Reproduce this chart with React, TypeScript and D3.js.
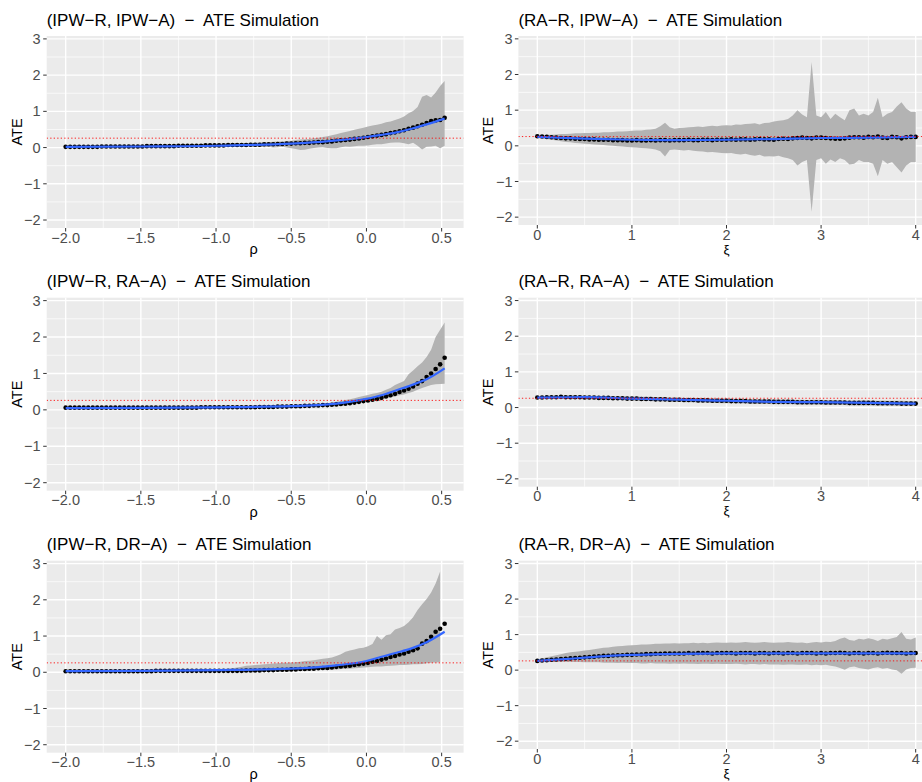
import React from 'react';
import * as d3 from 'd3';

// ---------- grids ----------
const rho = [-2.00,-1.97,-1.94,-1.91,-1.88,-1.85,-1.82,-1.79,-1.76,-1.73,-1.70,-1.67,-1.64,-1.61,-1.58,-1.55,-1.52,-1.49,-1.46,-1.43,-1.40,-1.37,-1.34,-1.31,-1.28,-1.25,-1.22,-1.19,-1.16,-1.13,-1.10,-1.07,-1.04,-1.01,-0.98,-0.95,-0.92,-0.89,-0.86,-0.83,-0.80,-0.77,-0.74,-0.71,-0.68,-0.65,-0.62,-0.59,-0.56,-0.53,-0.50,-0.47,-0.44,-0.41,-0.38,-0.35,-0.32,-0.29,-0.26,-0.23,-0.20,-0.17,-0.14,-0.11,-0.08,-0.05,-0.02,0.01,0.04,0.07,0.10,0.13,0.16,0.19,0.22,0.25,0.28,0.31,0.34,0.37,0.40,0.43,0.46,0.49,0.52];
const xi = [0.00,0.05,0.10,0.15,0.20,0.25,0.30,0.35,0.40,0.45,0.50,0.55,0.60,0.65,0.70,0.75,0.80,0.85,0.90,0.95,1.00,1.05,1.10,1.15,1.20,1.25,1.30,1.35,1.40,1.45,1.50,1.55,1.60,1.65,1.70,1.75,1.80,1.85,1.90,1.95,2.00,2.05,2.10,2.15,2.20,2.25,2.30,2.35,2.40,2.45,2.50,2.55,2.60,2.65,2.70,2.75,2.80,2.85,2.90,2.95,3.00,3.05,3.10,3.15,3.20,3.25,3.30,3.35,3.40,3.45,3.50,3.55,3.60,3.65,3.70,3.75,3.80,3.85,3.90,3.95,4.00];

// ---------- (IPW-R, IPW-A) ----------
const meanIpwIpw = [0.02,0.02,0.02,0.02,0.02,0.02,0.02,0.02,0.03,0.03,0.03,0.03,0.03,0.03,0.03,0.03,0.03,0.03,0.04,0.04,0.04,0.04,0.04,0.04,0.04,0.05,0.05,0.05,0.05,0.05,0.05,0.06,0.06,0.06,0.06,0.06,0.07,0.07,0.07,0.07,0.07,0.08,0.08,0.08,0.09,0.09,0.09,0.10,0.10,0.11,0.11,0.12,0.12,0.13,0.13,0.14,0.15,0.15,0.16,0.17,0.19,0.20,0.21,0.22,0.24,0.25,0.27,0.29,0.31,0.33,0.35,0.37,0.40,0.42,0.45,0.48,0.52,0.55,0.59,0.63,0.68,0.73,0.75,0.76,0.82];
const hiIpwIpw = [0.03,0.03,0.03,0.03,0.03,0.03,0.03,0.04,0.04,0.04,0.04,0.04,0.04,0.05,0.05,0.05,0.05,0.05,0.06,0.06,0.06,0.06,0.07,0.07,0.07,0.07,0.08,0.08,0.08,0.08,0.09,0.09,0.09,0.10,0.10,0.10,0.11,0.11,0.11,0.12,0.12,0.13,0.13,0.14,0.15,0.15,0.16,0.17,0.17,0.18,0.19,0.21,0.22,0.23,0.24,0.26,0.27,0.29,0.31,0.34,0.37,0.40,0.43,0.46,0.49,0.52,0.55,0.58,0.61,0.63,0.66,0.70,0.72,0.76,0.80,0.86,0.95,1.01,1.12,1.40,1.45,1.38,1.52,1.70,1.84];
const loIpwIpw = [0.01,0.01,0.01,0.01,0.01,0.01,0.01,0.01,0.01,0.01,0.02,0.02,0.02,0.02,0.02,0.02,0.02,0.02,0.02,0.02,0.02,0.02,0.02,0.02,0.02,0.02,0.02,0.02,0.02,0.02,0.02,0.03,0.02,0.02,0.03,0.02,0.02,0.01,0.02,0.03,0.04,0.03,0.02,0.03,0.01,0.02,0.00,0.01,0.02,0.00,-0.02,-0.04,-0.07,-0.06,-0.03,-0.01,0.00,0.01,-0.01,-0.02,-0.02,0.01,0.03,0.02,0.04,0.05,0.05,0.06,0.08,0.09,0.09,0.11,0.13,0.14,0.14,0.12,0.09,0.13,0.05,-0.05,0.02,0.03,0.05,-0.02,0.05];
const smoothXIpwIpw = [-2, -1.5, -1, -0.5, -0.25, 0, 0.1, 0.2, 0.3, 0.4, 0.52];
const smoothYIpwIpw = [0.02, 0.03, 0.05, 0.11, 0.18, 0.29, 0.35, 0.42, 0.52, 0.64, 0.80];

// ---------- (IPW-R, RA-A) ----------
const meanIpwRa = [0.06,0.06,0.06,0.06,0.06,0.06,0.06,0.06,0.06,0.06,0.06,0.06,0.06,0.06,0.06,0.06,0.06,0.06,0.06,0.06,0.06,0.06,0.06,0.06,0.06,0.06,0.06,0.06,0.06,0.06,0.07,0.07,0.07,0.07,0.07,0.07,0.07,0.07,0.07,0.07,0.07,0.07,0.07,0.08,0.08,0.08,0.08,0.09,0.09,0.09,0.10,0.10,0.10,0.11,0.11,0.12,0.12,0.13,0.13,0.14,0.15,0.16,0.17,0.18,0.20,0.22,0.24,0.26,0.28,0.30,0.33,0.37,0.40,0.44,0.49,0.53,0.58,0.64,0.72,0.79,0.90,1.00,1.12,1.25,1.43];
const hiIpwRa = [0.07,0.07,0.07,0.07,0.07,0.07,0.07,0.07,0.07,0.07,0.07,0.07,0.07,0.07,0.07,0.07,0.07,0.07,0.07,0.07,0.08,0.08,0.08,0.08,0.08,0.08,0.08,0.08,0.08,0.08,0.08,0.08,0.08,0.08,0.08,0.08,0.08,0.08,0.08,0.08,0.08,0.09,0.09,0.09,0.10,0.10,0.10,0.11,0.11,0.12,0.12,0.13,0.13,0.14,0.14,0.15,0.16,0.17,0.18,0.20,0.22,0.24,0.27,0.29,0.32,0.35,0.38,0.41,0.44,0.46,0.50,0.55,0.60,0.68,0.74,0.79,0.98,1.08,1.20,1.30,1.45,1.65,2.00,2.20,2.40];
const loIpwRa = [0.05,0.05,0.05,0.05,0.05,0.05,0.05,0.05,0.05,0.05,0.05,0.05,0.05,0.05,0.05,0.05,0.05,0.05,0.05,0.05,0.06,0.06,0.06,0.06,0.06,0.06,0.06,0.06,0.06,0.06,0.06,0.06,0.06,0.06,0.06,0.06,0.06,0.06,0.06,0.06,0.06,0.06,0.06,0.07,0.07,0.07,0.07,0.08,0.08,0.08,0.08,0.08,0.09,0.09,0.10,0.10,0.11,0.11,0.12,0.12,0.13,0.14,0.15,0.17,0.18,0.20,0.22,0.24,0.26,0.28,0.30,0.32,0.34,0.37,0.40,0.42,0.46,0.50,0.55,0.60,0.64,0.68,0.70,0.71,0.72];
const smoothXIpwRa = [-2, -1.5, -1, -0.5, -0.2, 0, 0.1, 0.2, 0.3, 0.4, 0.52];
const smoothYIpwRa = [0.05, 0.055, 0.07, 0.10, 0.17, 0.30, 0.40, 0.54, 0.68, 0.84, 1.14];

// ---------- (IPW-R, DR-A) ----------
const meanIpwDr = [0.03,0.03,0.03,0.03,0.03,0.03,0.03,0.03,0.03,0.03,0.03,0.03,0.03,0.03,0.03,0.03,0.03,0.03,0.03,0.03,0.04,0.04,0.04,0.04,0.04,0.04,0.04,0.04,0.04,0.04,0.04,0.04,0.04,0.04,0.04,0.04,0.04,0.04,0.04,0.04,0.05,0.05,0.05,0.05,0.06,0.06,0.06,0.07,0.07,0.07,0.08,0.08,0.09,0.09,0.10,0.10,0.11,0.12,0.12,0.13,0.15,0.16,0.17,0.18,0.20,0.22,0.24,0.26,0.29,0.31,0.35,0.38,0.42,0.45,0.49,0.52,0.57,0.61,0.66,0.79,0.86,0.98,1.12,1.20,1.34];
const hiIpwDr = [0.04,0.04,0.04,0.04,0.04,0.04,0.04,0.04,0.04,0.04,0.04,0.04,0.04,0.04,0.04,0.04,0.04,0.04,0.04,0.04,0.05,0.05,0.05,0.05,0.05,0.05,0.05,0.05,0.05,0.05,0.06,0.06,0.06,0.06,0.06,0.08,0.09,0.11,0.13,0.15,0.18,0.19,0.20,0.21,0.22,0.23,0.24,0.25,0.26,0.26,0.27,0.28,0.29,0.31,0.32,0.33,0.35,0.37,0.39,0.41,0.45,0.50,0.57,0.60,0.63,0.66,0.68,0.72,0.78,1.00,0.90,1.02,1.05,1.18,1.22,1.28,1.38,1.52,1.72,1.88,2.02,2.20,2.45,2.78,null];
const loIpwDr = [0.02,0.02,0.02,0.02,0.02,0.02,0.02,0.02,0.02,0.02,0.02,0.02,0.02,0.02,0.02,0.02,0.02,0.02,0.02,0.02,0.03,0.03,0.03,0.03,0.03,0.03,0.03,0.03,0.03,0.03,0.03,0.03,0.03,0.03,0.03,0.02,0.01,0.01,0.00,0.00,0.00,0.00,0.01,0.01,0.01,0.02,0.02,0.02,0.03,0.03,0.03,0.04,0.04,0.05,0.05,0.06,0.06,0.07,0.07,0.08,0.08,0.09,0.10,0.10,0.11,0.12,0.13,0.14,0.15,0.16,0.16,0.17,0.18,0.19,0.20,0.20,0.21,0.22,0.22,0.23,0.25,0.26,0.27,0.28,null];
const smoothXIpwDr = [-2, -1.5, -1, -0.5, -0.2, 0, 0.1, 0.2, 0.3, 0.4, 0.52];
const smoothYIpwDr = [0.03, 0.04, 0.06, 0.10, 0.19, 0.31, 0.43, 0.54, 0.66, 0.83, 1.12];

// ---------- (RA-R, IPW-A) ----------
const meanRaIpw = [0.27,0.26,0.25,0.24,0.23,0.22,0.21,0.21,0.20,0.19,0.19,0.18,0.18,0.17,0.17,0.17,0.16,0.16,0.16,0.15,0.15,0.16,0.15,0.15,0.16,0.15,0.16,0.16,0.15,0.16,0.16,0.16,0.17,0.16,0.16,0.17,0.17,0.16,0.17,0.17,0.17,0.18,0.17,0.18,0.18,0.17,0.18,0.19,0.18,0.18,0.17,0.19,0.20,0.19,0.21,0.22,0.23,0.22,0.21,0.23,0.23,0.22,0.21,0.20,0.20,0.21,0.23,0.24,0.24,0.23,0.25,0.24,0.26,0.23,0.22,0.25,0.24,0.21,0.24,0.25,0.25];
const hiRaIpw = [0.30,0.30,0.31,0.31,0.32,0.33,0.33,0.34,0.35,0.35,0.36,0.36,0.37,0.37,0.38,0.38,0.39,0.40,0.40,0.41,0.42,0.43,0.43,0.45,0.46,0.48,0.55,0.65,0.52,0.48,0.50,0.51,0.52,0.53,0.54,0.53,0.55,0.56,0.55,0.57,0.58,0.57,0.60,0.59,0.61,0.62,0.63,0.60,0.64,0.65,0.68,0.70,0.72,0.75,0.85,1.00,0.88,0.80,2.35,0.85,0.80,0.95,0.75,0.90,0.80,0.72,1.00,1.05,0.85,0.90,0.85,0.95,1.35,0.80,0.90,0.95,1.10,1.22,1.05,0.95,0.95];
const loRaIpw = [0.24,0.22,0.19,0.17,0.15,0.13,0.11,0.10,0.08,0.07,0.06,0.05,0.04,0.03,0.02,0.01,0.00,-0.01,-0.02,-0.03,-0.04,-0.05,-0.06,-0.07,-0.08,-0.10,-0.15,-0.30,-0.12,-0.10,-0.12,-0.13,-0.12,-0.14,-0.15,-0.16,-0.18,-0.17,-0.19,-0.20,-0.21,-0.20,-0.23,-0.24,-0.22,-0.26,-0.28,-0.25,-0.30,-0.29,-0.30,-0.28,-0.32,-0.35,-0.40,-0.55,-0.45,-0.40,-1.85,-0.40,-0.35,-0.50,-0.38,-0.45,-0.35,-0.40,-0.52,-0.50,-0.40,-0.45,-0.45,-0.50,-0.85,-0.40,-0.50,-0.45,-0.60,-0.75,-0.55,-0.45,-0.45];
const smoothXRaIpw = [0, 0.5, 1, 1.5, 2, 2.5, 3, 3.5, 4];
const smoothYRaIpw = [0.25, 0.20, 0.17, 0.16, 0.17, 0.19, 0.22, 0.23, 0.25];

// ---------- (RA-R, RA-A) ----------
const meanRaRa = [0.28,0.28,0.29,0.29,0.29,0.30,0.29,0.29,0.29,0.29,0.28,0.28,0.28,0.27,0.27,0.27,0.26,0.26,0.26,0.25,0.25,0.25,0.24,0.24,0.24,0.23,0.23,0.23,0.22,0.22,0.22,0.21,0.21,0.21,0.20,0.20,0.20,0.19,0.19,0.19,0.19,0.18,0.18,0.18,0.18,0.17,0.17,0.17,0.17,0.17,0.16,0.16,0.16,0.16,0.16,0.15,0.15,0.15,0.15,0.15,0.15,0.14,0.14,0.14,0.14,0.14,0.13,0.13,0.13,0.13,0.13,0.13,0.12,0.12,0.12,0.12,0.12,0.11,0.11,0.11,0.11];
const hiRaRa = [0.30,0.31,0.32,0.32,0.33,0.34,0.33,0.34,0.34,0.34,0.33,0.33,0.33,0.32,0.32,0.32,0.31,0.31,0.31,0.31,0.30,0.31,0.30,0.30,0.30,0.29,0.29,0.29,0.28,0.28,0.28,0.27,0.27,0.27,0.27,0.26,0.26,0.26,0.25,0.26,0.25,0.25,0.24,0.25,0.24,0.24,0.24,0.23,0.24,0.23,0.23,0.23,0.22,0.23,0.22,0.22,0.22,0.21,0.22,0.22,0.22,0.21,0.21,0.21,0.21,0.20,0.20,0.20,0.20,0.21,0.20,0.20,0.19,0.20,0.19,0.19,0.19,0.19,0.18,0.18,0.18];
const loRaRa = [0.26,0.25,0.26,0.25,0.25,0.25,0.25,0.24,0.24,0.24,0.23,0.23,0.23,0.22,0.22,0.22,0.21,0.21,0.21,0.20,0.20,0.19,0.19,0.18,0.18,0.17,0.17,0.17,0.16,0.16,0.16,0.15,0.15,0.15,0.14,0.14,0.14,0.13,0.13,0.12,0.12,0.12,0.11,0.11,0.11,0.10,0.10,0.10,0.10,0.10,0.09,0.09,0.09,0.09,0.09,0.08,0.08,0.08,0.08,0.08,0.08,0.07,0.07,0.07,0.07,0.07,0.06,0.06,0.06,0.06,0.06,0.06,0.05,0.05,0.05,0.05,0.05,0.04,0.04,0.04,0.04];
const smoothXRaRa = [0, 0.5, 1, 1.5, 2, 2.5, 3, 3.5, 4];
const smoothYRaRa = [0.28, 0.29, 0.25, 0.22, 0.19, 0.16, 0.15, 0.13, 0.11];

// ---------- (RA-R, DR-A) ----------
const meanRaDr = [0.26,0.27,0.28,0.29,0.30,0.31,0.32,0.33,0.34,0.35,0.36,0.37,0.38,0.39,0.40,0.40,0.41,0.42,0.42,0.43,0.43,0.44,0.44,0.45,0.45,0.46,0.46,0.47,0.47,0.47,0.47,0.47,0.48,0.47,0.48,0.48,0.48,0.47,0.48,0.48,0.48,0.48,0.47,0.48,0.48,0.48,0.47,0.48,0.48,0.47,0.48,0.48,0.47,0.48,0.48,0.47,0.48,0.48,0.48,0.47,0.48,0.47,0.48,0.48,0.49,0.48,0.47,0.48,0.48,0.47,0.48,0.48,0.47,0.48,0.49,0.48,0.48,0.48,0.47,0.48,0.48];
const hiRaDr = [0.30,0.33,0.36,0.39,0.42,0.45,0.48,0.50,0.52,0.53,0.55,0.57,0.59,0.61,0.63,0.64,0.66,0.67,0.68,0.69,0.70,0.71,0.72,0.72,0.73,0.74,0.74,0.75,0.75,0.76,0.75,0.76,0.76,0.77,0.76,0.77,0.76,0.77,0.78,0.77,0.77,0.78,0.77,0.78,0.79,0.78,0.77,0.78,0.79,0.78,0.77,0.78,0.78,0.79,0.78,0.77,0.78,0.76,0.78,0.79,0.78,0.80,0.79,0.82,0.88,0.92,0.85,0.83,0.88,0.86,0.90,0.87,0.82,0.88,0.86,0.90,0.93,1.07,0.88,0.86,0.92];
const loRaDr = [0.23,0.23,0.23,0.23,0.23,0.23,0.23,0.23,0.23,0.23,0.22,0.22,0.22,0.22,0.21,0.21,0.21,0.20,0.21,0.20,0.20,0.20,0.19,0.19,0.20,0.19,0.19,0.19,0.18,0.19,0.18,0.19,0.18,0.18,0.17,0.18,0.18,0.17,0.18,0.17,0.17,0.17,0.18,0.17,0.16,0.17,0.17,0.16,0.17,0.16,0.16,0.16,0.15,0.16,0.16,0.15,0.15,0.16,0.14,0.15,0.14,0.15,0.12,0.10,0.06,0.01,0.08,0.10,0.06,0.04,0.02,0.06,0.08,0.04,0.06,0.02,0.00,-0.10,0.02,0.06,0.07];
const smoothXRaDr = [0, 0.25, 0.5, 0.75, 1, 1.5, 2, 3, 4];
const smoothYRaDr = [0.26, 0.30, 0.35, 0.40, 0.43, 0.46, 0.47, 0.47, 0.47];

// ---------- axes ----------
const rhoTicks = [-2, -1.5, -1, -0.5, 0, 0.5];
const rhoTickLabels = ['\u22122.0', '\u22121.5', '\u22121.0', '\u22120.5', '0.0', '0.5'];
const rhoMinor = [-1.75, -1.25, -0.75, -0.25, 0.25];
const xiTicks = [0, 1, 2, 3, 4];
const xiTickLabels = ['0', '1', '2', '3', '4'];
const xiMinor = [0.5, 1.5, 2.5, 3.5];
const yTicks = [-2, -1, 0, 1, 2, 3];
const yTickLabels = ['\u22122', '\u22121', '0', '1', '2', '3'];
const yMinor = [-1.5, -0.5, 0.5, 1.5, 2.5];
const trueATE = 0.26;

const titles = [
  '(IPW\u2212R, IPW\u2212A)  \u2212  ATE Simulation',
  '(RA\u2212R, IPW\u2212A)  \u2212  ATE Simulation',
  '(IPW\u2212R, RA\u2212A)  \u2212  ATE Simulation',
  '(RA\u2212R, RA\u2212A)  \u2212  ATE Simulation',
  '(IPW\u2212R, DR\u2212A)  \u2212  ATE Simulation',
  '(RA\u2212R, DR\u2212A)  \u2212  ATE Simulation',
];

const W = 922, H = 782;
const FONT = '"Liberation Sans", Arial, Helvetica, sans-serif';

// layout
const colGeom = [
  { l: 46.7, r: 463.6, dom: [-2.126, 0.646], labelX: 17, tickLabelX: 40.5 },
  { l: 518.4, r: 934.6, dom: [-0.2, 4.2], labelX: 488, tickLabelX: 512.5 },
];
const rowTop = [36, 297.7, 560.7];
const rowBottom = [[228, 225], [490.7, 486.7], [752.7, 749]];
const yDomain = [-2.22, 3.08];

type PanelData = {
  title: string; kind: 'rho' | 'xi'; xs: number[]; mean: number[];
  lo: (number | null)[]; hi: (number | null)[]; sx: number[]; sy: number[];
};

const panels: PanelData[] = [
  { title: titles[0], kind: 'rho', xs: rho, mean: meanIpwIpw, lo: loIpwIpw, hi: hiIpwIpw, sx: smoothXIpwIpw, sy: smoothYIpwIpw },
  { title: titles[1], kind: 'xi', xs: xi, mean: meanRaIpw, lo: loRaIpw, hi: hiRaIpw, sx: smoothXRaIpw, sy: smoothYRaIpw },
  { title: titles[2], kind: 'rho', xs: rho, mean: meanIpwRa, lo: loIpwRa, hi: hiIpwRa, sx: smoothXIpwRa, sy: smoothYIpwRa },
  { title: titles[3], kind: 'xi', xs: xi, mean: meanRaRa, lo: loRaRa, hi: hiRaRa, sx: smoothXRaRa, sy: smoothYRaRa },
  { title: titles[4], kind: 'rho', xs: rho, mean: meanIpwDr, lo: loIpwDr, hi: hiIpwDr, sx: smoothXIpwDr, sy: smoothYIpwDr },
  { title: titles[5], kind: 'xi', xs: xi, mean: meanRaDr, lo: loRaDr, hi: hiRaDr, sx: smoothXRaDr, sy: smoothYRaDr },
];

function Panel({ p, idx }: { p: PanelData; idx: number }) {
  const col = idx % 2;
  const row = Math.floor(idx / 2);
  const g = colGeom[col];
  const top = rowTop[row];
  const bottom = rowBottom[row][col];
  const x = d3.scaleLinear().domain(g.dom).range([g.l, g.r]);
  const y = d3.scaleLinear().domain(yDomain).range([bottom, top]);
  const ticks = p.kind === 'rho' ? rhoTicks : xiTicks;
  const tickLabels = p.kind === 'rho' ? rhoTickLabels : xiTickLabels;
  const minor = p.kind === 'rho' ? rhoMinor : xiMinor;
  const ids = d3.range(p.xs.length);
  const area = d3.area<number>()
    .defined(i => p.lo[i] != null && p.hi[i] != null)
    .x(i => x(p.xs[i]))
    .y0(i => y(p.lo[i] as number))
    .y1(i => y(p.hi[i] as number));
  const sIds = d3.range(p.sx.length);
  const smooth = d3.line<number>().x(i => x(p.sx[i])).y(i => y(p.sy[i])).curve(d3.curveMonotoneX);
  const clipId = `clip${idx}`;
  return (
    <g>
      <defs>
        <clipPath id={clipId}>
          <rect x={g.l} y={top} width={g.r - g.l} height={bottom - top} />
        </clipPath>
      </defs>
      <rect x={g.l} y={top} width={g.r - g.l} height={bottom - top} fill="#EBEBEB" />
      {yMinor.map(v => (
        <line key={'ym' + v} x1={g.l} x2={g.r} y1={y(v)} y2={y(v)} stroke="#fff" strokeWidth={0.7} />
      ))}
      {minor.map(v => (
        <line key={'xm' + v} x1={x(v)} x2={x(v)} y1={top} y2={bottom} stroke="#fff" strokeWidth={0.7} />
      ))}
      {yTicks.map(v => (
        <line key={'yM' + v} x1={g.l} x2={g.r} y1={y(v)} y2={y(v)} stroke="#fff" strokeWidth={1.4} />
      ))}
      {ticks.map(v => (
        <line key={'xM' + v} x1={x(v)} x2={x(v)} y1={top} y2={bottom} stroke="#fff" strokeWidth={1.4} />
      ))}
      <g clipPath={`url(#${clipId})`}>
        <path d={area(ids) || ''} fill="#B3B3B3" />
        {ids.map(i => (
          <circle key={i} cx={x(p.xs[i])} cy={y(p.mean[i])} r={2.3} fill="#000" />
        ))}
        <path d={smooth(sIds) || ''} fill="none" stroke="#3366FF" strokeWidth={2.2} />
        <line x1={g.l} x2={g.r} y1={y(trueATE)} y2={y(trueATE)} stroke="#FF0000" strokeWidth={1} strokeDasharray="1.3 2.2" opacity={0.85} />
      </g>
      {/* y axis */}
      {yTicks.map((v, k) => (
        <g key={'yt' + v}>
          <line x1={g.l - 3.5} x2={g.l} y1={y(v)} y2={y(v)} stroke="#333" strokeWidth={1} />
          <text x={g.tickLabelX} y={y(v)} dy="0.35em" textAnchor="end" fontSize={14.5} fill="#4D4D4D" fontFamily={FONT}>{yTickLabels[k]}</text>
        </g>
      ))}
      {/* x axis */}
      {ticks.map((v, k) => (
        <g key={'xt' + v}>
          <line x1={x(v)} x2={x(v)} y1={bottom} y2={bottom + 3.5} stroke="#333" strokeWidth={1} />
          <text x={x(v)} y={bottom + 14.5} textAnchor="middle" fontSize={14.5} fill="#4D4D4D" fontFamily={FONT}>{tickLabels[k]}</text>
        </g>
      ))}
      <text x={x(p.kind === 'rho' ? -0.75 : 2)} y={bottom + (p.kind === 'rho' ? 26 : 28.5)} textAnchor="middle" fontSize={p.kind === 'rho' ? 14.5 : 13.5} fill="#000" fontFamily={FONT}>{p.kind === 'rho' ? '\u03C1' : '\u03BE'}</text>
      <text transform={`translate(${g.labelX},${(top + bottom) / 2}) rotate(-90)`} textAnchor="middle" dy="0.35em" fontSize={14.5} fill="#000" fontFamily={FONT}>ATE</text>
      <text x={g.l} y={top - 10.5} fontSize={17} fill="#000" fontFamily={FONT} style={{ whiteSpace: 'pre' }}>{p.title}</text>
    </g>
  );
}

export default function App() {
  return (
    <svg width={W} height={H} style={{ position: 'absolute', left: 0, top: 0, background: '#fff' }}>
      <rect x={0} y={0} width={W} height={H} fill="#fff" />
      {panels.map((p, i) => <Panel key={i} p={p} idx={i} />)}
    </svg>
  );
}
